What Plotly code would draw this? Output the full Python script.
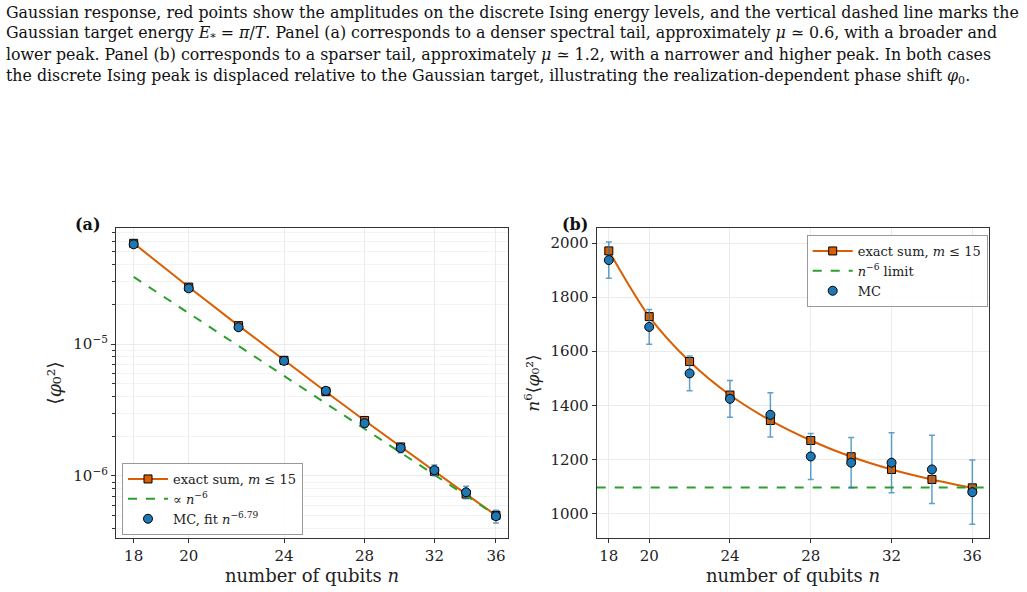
import plotly.graph_objects as go

# ---------------- data ----------------
n_vals = [18, 20, 22, 24, 26, 28, 30, 32, 34, 36]

# panel (b): n^6 <phi0^2>
exact_b = [1971, 1728, 1562, 1438, 1344, 1270, 1210, 1163, 1126, 1095]
mc_b = [1937, 1690, 1518, 1424, 1365, 1211, 1188, 1188, 1163, 1079]
mc_b_err = [67, 64, 64, 68, 82, 85, 93, 111, 126, 119]
limit_b = 1096

# panel (a): <phi0^2>
exact_a = [5.795e-5, 2.700e-5, 1.378e-5, 7.525e-6, 4.351e-6, 2.635e-6,
           1.660e-6, 1.083e-6, 7.289e-7, 5.030e-7]
mc_a = [5.695e-5, 2.641e-5, 1.339e-5, 7.451e-6, 4.419e-6, 2.513e-6,
        1.630e-6, 1.106e-6, 7.528e-7, 4.957e-7]
mc_a_err = [1.97e-6, 1.0e-6, 5.64e-7, 3.56e-7, 2.65e-7, 1.76e-7,
            1.28e-7, 1.03e-7, 8.16e-8, 5.47e-8]
powerlaw_a = [3.222e-5, 1.7125e-5, 9.667e-6, 5.735e-6, 3.548e-6, 2.274e-6,
              1.503e-6, 1.021e-6, 7.095e-7, 5.035e-7]

x_ticks = [18, 20, 24, 28, 32, 36]
ya_ticks = [1e-5, 1e-6]
ya_ticktext = ["10<sup>−5</sup>", "10<sup>−6</sup>"]
ya_minor = [4e-7, 5e-7, 6e-7, 7e-7, 8e-7, 9e-7,
            2e-6, 3e-6, 4e-6, 5e-6, 6e-6, 7e-6, 8e-6, 9e-6,
            2e-5, 3e-5, 4e-5, 5e-5, 6e-5, 7e-5]
yb_ticks = [1000, 1200, 1400, 1600, 1800, 2000]

caption_lines = [
    "Gaussian response, red points show the amplitudes on the discrete Ising energy levels, and the vertical dashed line marks the",
    "Gaussian target energy <i>E</i><sub>*</sub> = <i>π</i>/<i>T</i>. Panel (a) corresponds to a denser spectral tail, approximately <i>μ</i> ≃ 0.6, with a broader and",
    "lower peak. Panel (b) corresponds to a sparser tail, approximately <i>μ</i> ≃ 1.2, with a narrower and higher peak. In both cases",
    "the discrete Ising peak is displaced relative to the Gaussian target, illustrating the realization-dependent phase shift <i>φ</i><sub>0</sub>.",
]

ORANGE = "#d95f02"
BLUE = "#1f77b4"
GREEN = "#2ca02c"
ERR = "rgba(31,119,180,0.7)"
GRID = "#ebebeb"
FONT = "DejaVu Serif"

W, H = 1027, 592
fig = go.Figure()

# ---------------- panel (a) ----------------
fig.add_trace(go.Scatter(
    x=n_vals, y=exact_a, mode="lines+markers", name="exact sum, <i>m</i> ≤ 15",
    line=dict(color=ORANGE, width=2),
    marker=dict(symbol="square", size=8, color=ORANGE, line=dict(color="black", width=1)),
    xaxis="x", yaxis="y", legend="legend"))
fig.add_trace(go.Scatter(
    x=n_vals, y=powerlaw_a, mode="lines", name="∝ <i>n</i><sup>−6</sup>",
    line=dict(color=GREEN, width=2, dash="dash"),
    xaxis="x", yaxis="y", legend="legend"))
fig.add_trace(go.Scatter(
    x=n_vals, y=mc_a, mode="markers", name="MC, fit <i>n</i><sup>−6.79</sup>",
    marker=dict(symbol="circle", size=9, color=BLUE, line=dict(color="black", width=1)),
    error_y=dict(type="data", array=mc_a_err, color=ERR, thickness=1.5, width=3),
    xaxis="x", yaxis="y", legend="legend"))

# ---------------- panel (b) ----------------
fig.add_trace(go.Scatter(
    x=n_vals, y=exact_b, mode="lines+markers", name="exact sum, <i>m</i> ≤ 15",
    line=dict(color=ORANGE, width=2, shape="spline", smoothing=0.8),
    marker=dict(symbol="square", size=8, color=ORANGE, line=dict(color="black", width=1)),
    xaxis="x2", yaxis="y2", legend="legend2"))
fig.add_trace(go.Scatter(
    x=[17.4, 36.84], y=[limit_b, limit_b], mode="lines", name="<i>n</i><sup>−6</sup> limit",
    line=dict(color=GREEN, width=2, dash="dash"),
    xaxis="x2", yaxis="y2", legend="legend2"))
fig.add_trace(go.Scatter(
    x=n_vals, y=mc_b, mode="markers", name="MC",
    marker=dict(symbol="circle", size=9, color=BLUE, line=dict(color="black", width=1)),
    error_y=dict(type="data", array=mc_b_err, color=ERR, thickness=1.5, width=3),
    xaxis="x2", yaxis="y2", legend="legend2"))

axis_common = dict(
    showline=True, linecolor="#333", linewidth=1.2, mirror=True,
    ticks="outside", ticklen=4, tickcolor="#333",
    showgrid=True, gridcolor=GRID, gridwidth=1, zeroline=False,
    tickfont=dict(family=FONT, size=15, color="#222"),
)

yd = [1 - 538 / H, 1 - 228 / H]
xtitle = dict(text="number of qubits <i>n</i>", font=dict(family=FONT, size=18), standoff=3)

fig.update_layout(
    width=W, height=H, margin=dict(l=0, r=0, t=0, b=0),
    paper_bgcolor="white", plot_bgcolor="white",
    font=dict(family=FONT, color="#222"),
    xaxis=dict(axis_common, type="log", domain=[116 / W, 508 / W],
               range=[1.2406, 1.5663], tickmode="array", tickvals=x_ticks,
               ticktext=[str(v) for v in x_ticks], anchor="y", title=xtitle),
    yaxis=dict(axis_common, type="log", domain=yd, range=[-6.470, -4.121],
               tickmode="array", tickvals=ya_ticks, ticktext=ya_ticktext, anchor="x",
               minor=dict(tickmode="array", tickvals=ya_minor, ticks="outside", ticklen=2.5,
                          tickcolor="#333", showgrid=True, gridcolor="#f3f3f3"),
               title=dict(text="⟨<i>φ</i>₀²⟩", font=dict(family=FONT, size=19), standoff=6)),
    xaxis2=dict(axis_common, domain=[596.7 / W, 989.3 / W], range=[17.4, 36.84],
                tickmode="array", tickvals=x_ticks, anchor="y2", title=xtitle),
    yaxis2=dict(axis_common, domain=yd, range=[909.6, 2055.6],
                tickmode="array", tickvals=yb_ticks, anchor="x2",
                title=dict(text="<i>n</i><sup>6</sup>⟨<i>φ</i>₀²⟩", font=dict(family=FONT, size=17), standoff=6)),
    legend=dict(x=122 / W, y=1 - 463 / H, xanchor="left", yanchor="top",
                bgcolor="rgba(255,255,255,0.85)", bordercolor="#999", borderwidth=1,
                itemwidth=40, font=dict(family=FONT, size=13, color="#222")),
    legend2=dict(x=806.7 / W, y=1 - 235 / H, xanchor="left", yanchor="top",
                 bgcolor="rgba(255,255,255,0.85)", bordercolor="#999", borderwidth=1,
                 itemwidth=40, font=dict(family=FONT, size=13, color="#222")),
)

annots = [
    dict(text="<b>(a)</b>", x=88 / W, y=1 - 224 / H, xref="paper", yref="paper",
         xanchor="center", yanchor="middle", showarrow=False,
         font=dict(family=FONT, size=16, color="#111")),
    dict(text="<b>(b)</b>", x=575 / W, y=1 - 224 / H, xref="paper", yref="paper",
         xanchor="center", yanchor="middle", showarrow=False,
         font=dict(family=FONT, size=16, color="#111")),
]
line_y = [12, 33.5, 55, 76.5]
for txt, ly in zip(caption_lines, line_y):
    annots.append(dict(text=txt, x=4 / W, y=1 - ly / H, xref="paper", yref="paper",
                       xanchor="left", yanchor="middle", showarrow=False,
                       font=dict(family="DejaVu Serif", size=15.8, color="#111")))
fig.update_layout(annotations=annots)

fig.write_html("out.html")
